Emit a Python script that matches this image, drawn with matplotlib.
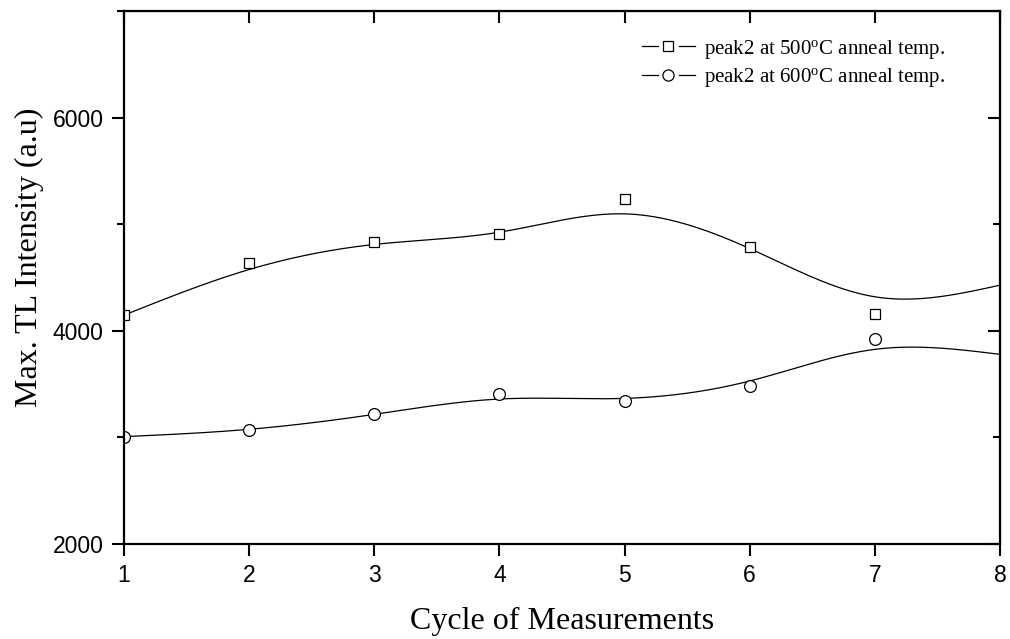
import numpy as np
import matplotlib
matplotlib.use('Agg')
import matplotlib.pyplot as plt
from matplotlib.ticker import MultipleLocator
from matplotlib.lines import Line2D
from matplotlib.legend_handler import HandlerBase

# measured points
ciclos = [1, 2, 3, 4, 5, 6, 7]
pico500 = [4147, 4632, 4831, 4906, 5237, 4782, 4154]
pico600 = [3007, 3069, 3216, 3404, 3344, 3485, 3925]

# smoothed curve values read at each cycle (curve runs to x = 8)
ciclos_curva = [1, 2, 3, 4, 5, 6, 7, 8]
curva500 = [4147, 4575, 4810, 4925, 5097, 4772, 4319, 4428]
curva600 = [3007, 3076, 3216, 3360, 3366, 3529, 3826, 3779]

etiquetas = [r'peak2 at 500$^{\rm o}$C anneal temp.',
             r'peak2 at 600$^{\rm o}$C anneal temp.']


def spline_natural(xk, yk, xs):
    # cubic spline, natural ends
    xk = np.asarray(xk, float)
    yk = np.asarray(yk, float)
    n = len(xk)
    h = np.diff(xk)
    A = np.zeros((n, n))
    b = np.zeros(n)
    A[0, 0] = 1
    A[-1, -1] = 1
    for i in range(1, n - 1):
        A[i, i - 1] = h[i - 1]
        A[i, i] = 2 * (h[i - 1] + h[i])
        A[i, i + 1] = h[i]
        b[i] = 6 * ((yk[i + 1] - yk[i]) / h[i] - (yk[i] - yk[i - 1]) / h[i - 1])
    M = np.linalg.solve(A, b)
    idx = np.clip(np.searchsorted(xk, xs) - 1, 0, n - 2)
    x0, x1 = xk[idx], xk[idx + 1]
    hh = x1 - x0
    t0 = x1 - xs
    t1 = xs - x0
    return (M[idx] * t0 ** 3 / (6 * hh) + M[idx + 1] * t1 ** 3 / (6 * hh)
            + (yk[idx] / hh - M[idx] * hh / 6) * t0
            + (yk[idx + 1] / hh - M[idx + 1] * hh / 6) * t1)


class HandlerHueco(HandlerBase):
    # line - gap - marker - gap - line
    def create_artists(self, legend, orig_handle, xdescent, ydescent,
                       width, height, fontsize, trans):
        y = height / 2 - ydescent
        x0 = -xdescent
        seg = width * 0.3
        l1 = Line2D([x0, x0 + seg], [y, y], color='black', lw=0.9)
        l2 = Line2D([x0 + width - seg, x0 + width], [y, y], color='black', lw=0.9)
        m = Line2D([x0 + width / 2], [y], ls='none', marker=orig_handle.get_marker(),
                   ms=orig_handle.get_markersize(), mfc='white', mec='black', mew=0.9)
        for a in (l1, m, l2):
            a.set_transform(trans)
        return [l1, m, l2]


plt.rcParams['mathtext.fontset'] = 'custom'
plt.rcParams['mathtext.rm'] = 'Liberation Serif'
plt.rcParams['mathtext.it'] = 'Liberation Serif:italic'

fig = plt.figure(figsize=(10.1, 6.39), dpi=100)
ax = fig.add_axes([124 / 1010, 95 / 639, 876 / 1010, 533 / 639])

xs = np.linspace(1, 8, 400)
ax.plot(xs, spline_natural(ciclos_curva, curva500, xs), color='black', lw=0.9)
ax.plot(xs, spline_natural(ciclos_curva, curva600, xs), color='black', lw=0.9)

ax.plot(ciclos, pico500, ls='none', marker='s', ms=7.5, mfc='white', mec='black', mew=0.9)
ax.plot(ciclos, pico600, ls='none', marker='o', ms=8.5, mfc='white', mec='black', mew=0.9)

h1 = Line2D([], [], marker='s', ms=6.5)
h2 = Line2D([], [], marker='o', ms=8)
leg = ax.legend([h1, h2], etiquetas, loc='upper right', frameon=False,
                handler_map={Line2D: HandlerHueco()},
                handlelength=2.5, handletextpad=0.45, labelspacing=0.25,
                borderaxespad=0, borderpad=0, bbox_to_anchor=(0.9372, 0.95),
                prop={'family': 'Liberation Serif', 'size': 15})

ax.set_xlim(1, 8)
ax.set_ylim(2000, 7000)
ax.xaxis.set_major_locator(MultipleLocator(1))
ax.yaxis.set_major_locator(MultipleLocator(2000))
ax.yaxis.set_minor_locator(MultipleLocator(1000))

for s in ax.spines.values():
    s.set_linewidth(1.6)

ax.tick_params(which='major', direction='out', length=8.5, width=1.5, labelsize=16.5, pad=6)
ax.tick_params(which='minor', direction='out', length=5, width=1.5)
for lab in ax.get_xticklabels() + ax.get_yticklabels():
    lab.set_family('Liberation Sans')

top = ax.secondary_xaxis('top')
top.xaxis.set_major_locator(MultipleLocator(1))
top.tick_params(direction='in', length=8.5, width=1.5, labeltop=False)
right = ax.secondary_yaxis('right')
right.yaxis.set_major_locator(MultipleLocator(2000))
right.yaxis.set_minor_locator(MultipleLocator(1000))
right.tick_params(which='major', direction='in', length=8.5, width=1.5, labelright=False)
right.tick_params(which='minor', direction='in', length=5, width=1.5)

ax.set_xlabel('Cycle of Measurements', family='Liberation Serif', fontsize=23, labelpad=14)
ax.set_ylabel('Max. TL Intensity (a.u)', family='Liberation Serif', fontsize=23)
ax.yaxis.set_label_coords(-0.091, 0.5385)

fig.savefig('out.png', dpi=100)
